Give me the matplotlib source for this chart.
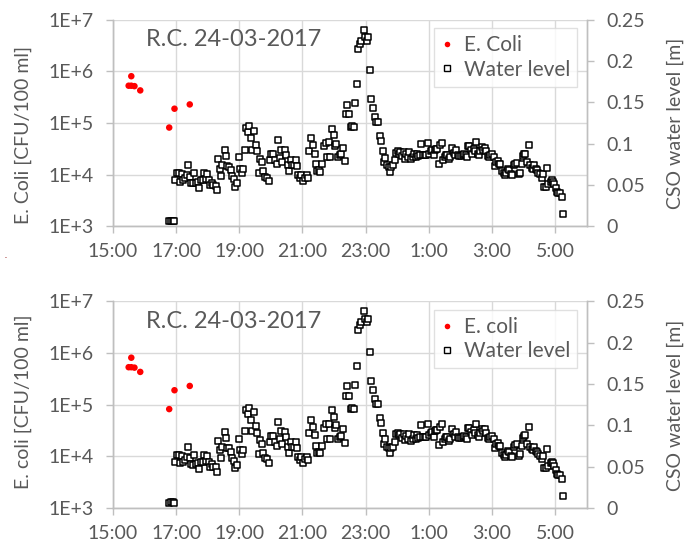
import numpy as np
import pandas as pd
import matplotlib
matplotlib.use("Agg")
import matplotlib.pyplot as plt
import matplotlib.dates as mdates
from matplotlib.ticker import FixedLocator, NullLocator, FuncFormatter
from matplotlib.lines import Line2D

plt.rcParams['font.family'] = ['Lato', 'DejaVu Sans']

start = pd.Timestamp('2017-03-24 15:00')

# E. coli samples: minutes after 15:00 and CFU/100 ml
ecoli_min = [30, 35, 35, 41, 52, 107, 117, 146]
ecoli_cfu = [5.3e5, 8.1e5, 5.3e5, 5.2e5, 4.3e5, 8.2e4, 1.9e5, 2.3e5]

# CSO water level: minutes after 15:00 and level in m
wl_min = [106, 111, 114, 117, 118, 121, 125, 128, 131, 134, 137, 140, 143, 146, 148,
          152, 155, 158, 161, 164, 167, 171, 173, 176, 179, 182, 184, 188, 191, 195,
          197, 200, 203, 206, 208, 212, 215, 217, 221, 224, 227, 230, 232, 236, 239,
          242, 245, 248, 251, 253, 256, 259, 262, 265, 268, 271, 274, 277, 280, 283,
          286, 289, 292, 296, 298, 301, 304, 308, 311, 314, 317, 320, 322, 326, 329,
          332, 335, 338, 340, 344, 347, 349, 352, 356, 358, 361, 364, 368, 371, 373,
          376, 380, 383, 385, 388, 391, 394, 397, 400, 404, 407, 410, 412, 416, 419,
          421, 424, 428, 431, 434, 437, 440, 442, 445, 448, 452, 455, 458, 460, 464,
          466, 469, 472, 476, 479, 482, 485, 488, 491, 494, 497, 500, 503, 508, 510,
          512, 514, 517, 520, 524, 527, 529, 532, 535, 538, 541, 543, 546, 549, 552,
          555, 557, 560, 563, 566, 569, 572, 575, 577, 580, 584, 586, 589, 592, 595,
          598, 601, 604, 606, 609, 611, 614, 616, 619, 622, 624, 627, 630, 632, 635,
          638, 641, 644, 647, 649, 652, 655, 658, 661, 664, 666, 670, 672, 675, 677,
          680, 682, 685, 687, 690, 693, 695, 698, 700, 703, 706, 709, 712, 714, 717,
          720, 723, 725, 728, 731, 733, 736, 739, 742, 744, 747, 750, 752, 755, 758,
          761, 764, 767, 771, 773, 776, 778, 781, 783, 787, 790, 792, 795, 798, 800,
          803, 806, 808, 811, 814, 816, 819, 822, 825, 827, 831, 833, 836, 838, 841,
          843, 846, 849, 852, 855]
wl_m = [0.006, 0.007, 0.007, 0.0065, 0.056, 0.064, 0.064, 0.054, 0.063, 0.056, 0.058, 0.062, 0.074, 0.060, 0.053,
        0.052, 0.064, 0.053, 0.054, 0.047, 0.056, 0.056, 0.064, 0.057, 0.063, 0.056, 0.050, 0.053, 0.050, 0.049,
        0.044, 0.081, 0.070, 0.061, 0.074, 0.092, 0.085, 0.073, 0.072, 0.068, 0.061, 0.057, 0.048, 0.052, 0.084,
        0.070, 0.065, 0.070, 0.093, 0.119, 0.114, 0.121, 0.107, 0.093, 0.116, 0.099, 0.091, 0.065, 0.082, 0.078,
        0.067, 0.060, 0.059, 0.055, 0.080, 0.087, 0.087, 0.080, 0.075, 0.104, 0.083, 0.093, 0.078, 0.092, 0.086,
        0.074, 0.067, 0.080, 0.074, 0.074, 0.080, 0.073, 0.062, 0.058, 0.062, 0.055, 0.059, 0.062, 0.058, 0.091,
        0.107, 0.098, 0.088, 0.075, 0.067, 0.068, 0.066, 0.075, 0.097, 0.101, 0.084, 0.102, 0.084, 0.118, 0.110,
        0.097, 0.100, 0.084, 0.086, 0.087, 0.095, 0.079, 0.136, 0.147, 0.136, 0.120, 0.121, 0.120, 0.149, 0.172,
        0.215, 0.221, 0.225, 0.238, 0.229, 0.225, 0.229, 0.189, 0.154, 0.143, 0.132, 0.126, 0.126, 0.109, 0.103,
        0.091, 0.078, 0.083, 0.074, 0.072, 0.066, 0.072, 0.074, 0.080, 0.089, 0.091, 0.088, 0.090, 0.085, 0.090,
        0.082, 0.087, 0.084, 0.090, 0.081, 0.084, 0.088, 0.084, 0.088, 0.085, 0.086, 0.100, 0.086, 0.086, 0.086,
        0.101, 0.088, 0.091, 0.092, 0.086, 0.093, 0.094, 0.094, 0.076, 0.098, 0.101, 0.080, 0.084, 0.086, 0.086,
        0.081, 0.084, 0.095, 0.089, 0.086, 0.092, 0.086, 0.085, 0.085, 0.086, 0.087, 0.086, 0.084, 0.097, 0.097,
        0.092, 0.088, 0.094, 0.091, 0.102, 0.088, 0.086, 0.091, 0.096, 0.093, 0.095, 0.091, 0.085, 0.084, 0.086,
        0.087, 0.084, 0.073, 0.078, 0.079, 0.075, 0.075, 0.067, 0.064, 0.062, 0.064, 0.069, 0.068, 0.063, 0.062,
        0.074, 0.076, 0.077, 0.063, 0.065, 0.075, 0.085, 0.087, 0.088, 0.078, 0.098, 0.074, 0.071, 0.070, 0.074,
        0.069, 0.068, 0.065, 0.063, 0.059, 0.063, 0.048, 0.048, 0.071, 0.051, 0.054, 0.056, 0.054, 0.051, 0.046,
        0.041, 0.040, 0.040, 0.035, 0.0145]

left_ticks = [1e3, 1e4, 1e5, 1e6, 1e7]
left_ticklabels = ['1E+3', '1E+4', '1E+5', '1E+6', '1E+7']
right_ticks = [0, 0.05, 0.1, 0.15, 0.2, 0.25]
right_ticklabels = ['0', '0.05', '0.1', '0.15', '0.2', '0.25']
tick_hours = [15, 17, 19, 21, 23, 1, 3, 5]

title = 'R.C. 24-03-2017'

txt_c = '#595959'
grid_c = '#d9d9d9'
spine_c = '#bfbfbf'

t_e = start + pd.to_timedelta(ecoli_min, unit='m')
t_w = start + pd.to_timedelta(wl_min, unit='m')


def hfmt(x, pos):
    d = mdates.num2date(x)
    return f"{d.hour}:{d.minute:02d}"


def draw_panel(ax, ecoli_name, ylab, ylab_y, rlab_y):
    ax2 = ax.twinx()

    ax.scatter(t_e, ecoli_cfu, s=22, color='#ff0000', edgecolors='none', zorder=3)
    ax2.scatter(t_w, wl_m, s=16, marker='s', facecolors='white', edgecolors='black',
                linewidths=1.1, zorder=3)

    ax.set_yscale('log')
    ax.set_ylim(1e3, 1e7)
    ax.yaxis.set_major_locator(FixedLocator(left_ticks))
    ax.yaxis.set_minor_locator(NullLocator())
    ax.set_yticklabels(left_ticklabels)

    ax.set_xlim(start, start + pd.Timedelta(hours=15))
    ax.xaxis.set_major_locator(mdates.HourLocator(byhour=tick_hours))
    ax.xaxis.set_major_formatter(FuncFormatter(hfmt))

    ax2.set_ylim(0, 0.25)
    ax2.yaxis.set_major_locator(FixedLocator(right_ticks))
    ax2.set_yticklabels(right_ticklabels)

    ax.grid(True, color=grid_c, linewidth=1.0)
    ax.set_axisbelow(True)

    for a in (ax, ax2):
        for s in a.spines.values():
            s.set_color(spine_c)
            s.set_linewidth(1.0)
        a.spines['top'].set_visible(False)
        a.tick_params(colors=spine_c, labelcolor=txt_c, labelsize=14, length=5, width=1.0)
    ax.tick_params(axis='y', pad=9)
    ax.tick_params(axis='x', pad=7)
    ax2.tick_params(axis='y', pad=9)

    ax.text(0.254, 0.903, title, transform=ax.transAxes, ha='center', va='center',
            fontsize=17, color=txt_c)

    handles = [Line2D([], [], linestyle='none', marker='o', markersize=4,
                      markerfacecolor='#ff0000', markeredgecolor='none'),
               Line2D([], [], linestyle='none', marker='s', markersize=4,
                      markerfacecolor='white', markeredgecolor='black', markeredgewidth=1.0)]
    leg = ax2.legend(handles, [ecoli_name, 'Water level'], loc='upper right',
                     bbox_to_anchor=(0.98, 0.96), borderaxespad=0, fontsize=15,
                     frameon=True, fancybox=False, handlelength=0.6, handletextpad=0.5,
                     borderpad=0.35, labelspacing=0.2)
    leg.get_frame().set_edgecolor(grid_c)
    leg.get_frame().set_linewidth(1.0)
    for t in leg.get_texts():
        t.set_color(txt_c)

    fig.text(0.034, ylab_y, ylab, rotation=90, ha='center', va='center',
             fontsize=14, color=txt_c)
    fig.text(0.987, rlab_y, 'CSO water level [m]', rotation=90, ha='center', va='center',
             fontsize=14, color=txt_c)


fig = plt.figure(figsize=(6.84, 5.52), dpi=100)
ax_top = fig.add_axes([0.165, 0.590, 0.693, 0.374])
ax_bot = fig.add_axes([0.165, 0.0797, 0.693, 0.3745])

draw_panel(ax_top, 'E. Coli', 'E. Coli [CFU/100 ml]', 0.7554, 0.7766)
draw_panel(ax_bot, 'E. coli', 'E. coli [CFU/100 ml]', 0.2723, 0.2663)

fig.text(0.007, 1 - 258 / 552, '.', color='#8b0000', fontsize=6)

fig.savefig('out.png', dpi=100)
